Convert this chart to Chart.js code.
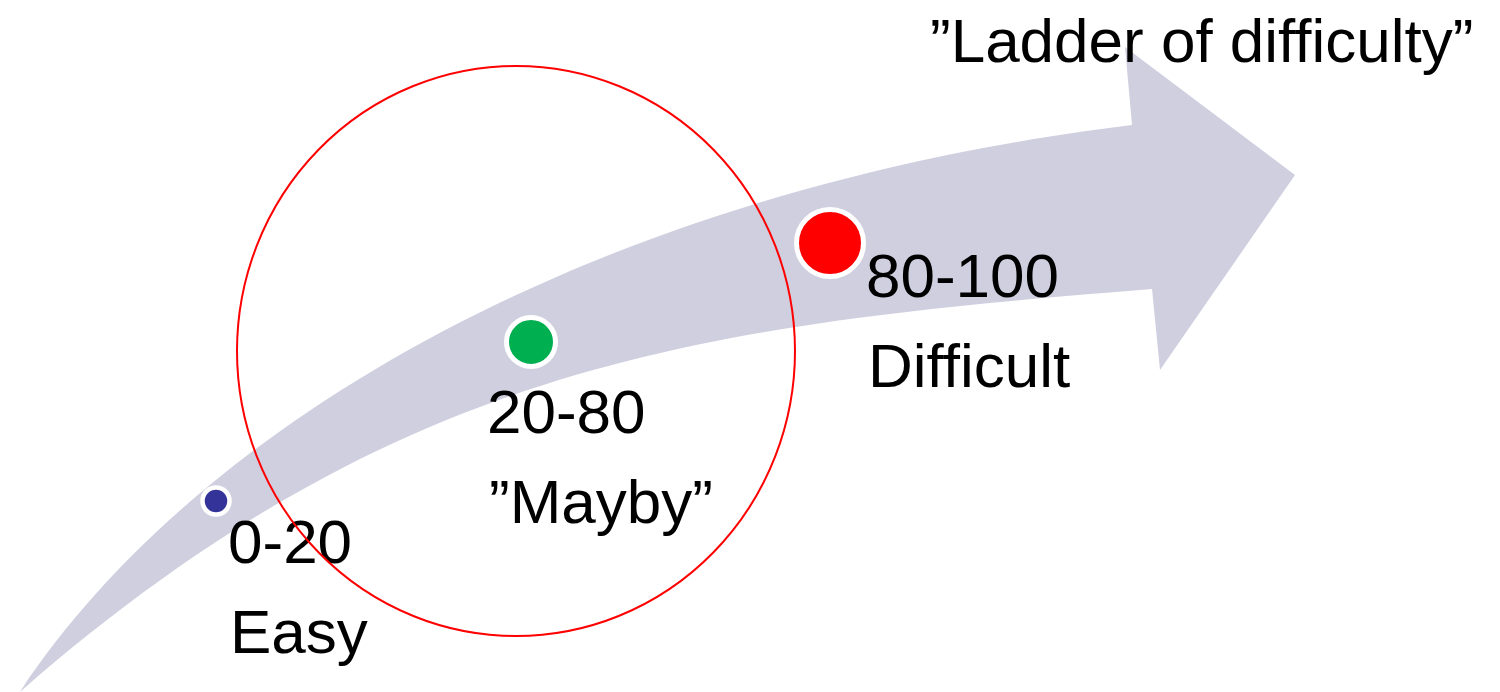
<!DOCTYPE html>
<html>
<head>
<meta charset="utf-8">
<script src="https://cdn.jsdelivr.net/npm/chart.js@4/dist/chart.umd.min.js"></script>
<style>
html,body{margin:0;padding:0;background:#fff;overflow:hidden;}
#wrap{width:1500px;height:692px;}
</style>
</head>
<body>
<div id="wrap"><canvas id="c" width="1500" height="692"></canvas></div>
<script>
// ---- data ----
const categories = ["0-20", "20-80", "80-100"];
const categoryNames = ["Easy", "\u201DMayby\u201D", "Difficult"];
const stageX = [216, 531, 830];      // position along the ladder (diagram units)
const stageY = [501, 342, 243];
const titleText = "\u201DLadder of difficulty\u201D";

// ---- shape / style settings (cubic Bezier edges of the arrow) ----
const arrowUpper = [[20,692],[200,420],[600,190],[1132,125]];
const arrowHead = [[1125,47],[1295,175],[1160,370],[1152,289]];
const arrowLower = [[1152,289],[702,325],[400,361],[20,692]];
const labelPos = [[228,563],[487,433],[866,297]];
const lineGap = 90;
const titlePos = [930,62];
const ring = {cx:516, cy:351, rx:279, ry:285};

const diagramPlugin = {
  id: 'diagram',
  beforeDatasetsDraw(chart) {
    const ctx = chart.ctx, xs = chart.scales.x, ys = chart.scales.y;
    const P = p => [xs.getPixelForValue(p[0]), ys.getPixelForValue(p[1])];
    ctx.save();
    // arrow
    const u = arrowUpper.map(P), l = arrowLower.map(P);
    ctx.beginPath();
    ctx.moveTo(u[0][0], u[0][1]);
    ctx.bezierCurveTo(u[1][0], u[1][1], u[2][0], u[2][1], u[3][0], u[3][1]);
    arrowHead.forEach(p => { const q = P(p); ctx.lineTo(q[0], q[1]); });
    ctx.lineTo(l[0][0], l[0][1]);
    ctx.bezierCurveTo(l[1][0], l[1][1], l[2][0], l[2][1], l[3][0], l[3][1]);
    ctx.closePath();
    ctx.fillStyle = '#cfcfe0';
    ctx.fill();
    // texts
    ctx.fillStyle = '#000';
    ctx.font = '62px "Liberation Sans", Arial, sans-serif';
    ctx.textBaseline = 'alphabetic';
    ctx.textAlign = 'left';
    categories.forEach((c, i) => {
      const p = P(labelPos[i]);
      ctx.fillText(c, p[0], p[1]);
      ctx.fillText(categoryNames[i], p[0] + 2, p[1] + lineGap);
    });
    const t = P(titlePos);
    ctx.fillText(titleText, t[0], t[1]);
    // ring
    const c = P([ring.cx, ring.cy]);
    ctx.beginPath();
    ctx.ellipse(c[0], c[1], ring.rx, ring.ry, 0, 0, Math.PI * 2);
    ctx.strokeStyle = '#ff0000';
    ctx.lineWidth = 2;
    ctx.stroke();
    ctx.restore();
  }
};

new Chart(document.getElementById('c'), {
  type: 'scatter',
  data: {
    labels: categories,
    datasets: [{
      data: stageX.map((x, i) => ({x: x, y: stageY[i]})),
      pointRadius: [13.5, 24.5, 33.5],
      pointHoverRadius: [13.5, 24.5, 33.5],
      pointBackgroundColor: ['#333399', '#00b050', '#ff0000'],
      pointBorderColor: '#ffffff',
      pointBorderWidth: [4.5, 5, 5],
      showLine: false,
      clip: false
    }]
  },
  options: {
    responsive: false,
    devicePixelRatio: 1,
    animation: false,
    layout: {padding: 0, autoPadding: false},
    scales: {
      x: {type: 'linear', min: 0, max: 1500, display: false},
      y: {type: 'linear', min: 0, max: 692, reverse: true, display: false}
    },
    plugins: {legend: {display: false}, tooltip: {enabled: false}, title: {display: false}},
    events: []
  },
  plugins: [diagramPlugin]
});
</script>
</body>
</html>
